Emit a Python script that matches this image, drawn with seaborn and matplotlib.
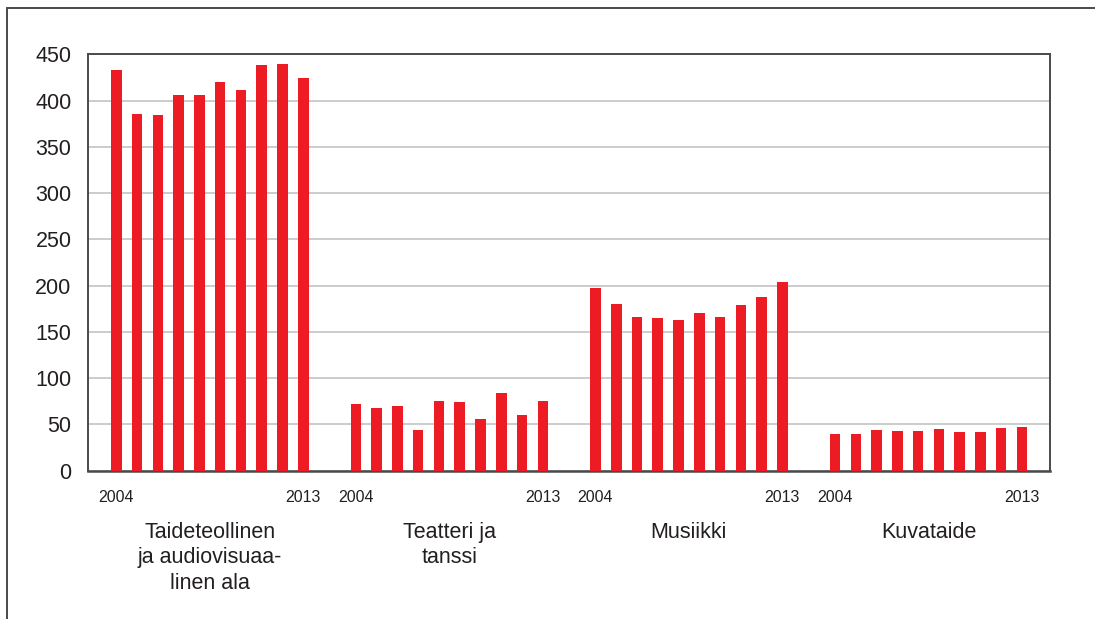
import numpy as np
import pandas as pd
import matplotlib
matplotlib.use("Agg")
import matplotlib.pyplot as plt
import seaborn as sns
from matplotlib.lines import Line2D

# data, years 2004..2013
years = list(range(2004, 2014))
groups = ["Taideteollinen\nja audiovisuaa-\nlinen ala", "Teatteri ja\ntanssi", "Musiikki", "Kuvataide"]
taideteollinen = [433, 386, 384, 406, 406, 420, 411, 438, 440, 424]
teatteri = [72, 68, 70, 44, 75, 74, 56, 84, 60, 75]
musiikki = [197, 180, 166, 165, 163, 170, 166, 179, 188, 204]
kuvataide = [40, 40, 44, 43, 43, 45, 42, 42, 46, 47]
yticks = [0, 50, 100, 150, 200, 250, 300, 350, 400, 450]

BAR_RED = "#ED1C24"
GROUP_STRIDE = 11.535  # distance between groups, in bar slots

sns.set_style("white")
plt.rcParams["font.family"] = ["Liberation Sans", "DejaVu Sans"]
plt.rcParams["text.color"] = "#231f20"

rows = []
for g, vals in enumerate([taideteollinen, teatteri, musiikki, kuvataide]):
    for i, (yr, v) in enumerate(zip(years, vals)):
        rows.append({"group": g, "year": yr, "value": v, "pos": g * GROUP_STRIDE + i})
df = pd.DataFrame(rows)

fig = plt.figure(figsize=(10.95, 6.19), dpi=100)
ax = fig.add_axes([0.0806, 0.2396, 0.9589 - 0.0806, 0.9123 - 0.2396])

sns.barplot(data=df, x="pos", y="value", native_scale=True, width=0.51,
            color=BAR_RED, saturation=1, linewidth=0, ax=ax, zorder=3)

ax.set_xlim(-1.35, 3 * GROUP_STRIDE + 9 + 1.35)
ax.set_ylim(0, 450)
ax.set_yticks(yticks)
ax.set_yticklabels([str(t) for t in yticks], fontsize=15.5)
ax.set_xticks([])
ax.tick_params(axis="y", length=0, pad=12, labelcolor="#231f20")
ax.yaxis.grid(True, color="#c8c8c8", linewidth=1.3)
ax.set_axisbelow(True)
ax.set_xlabel("")
ax.set_ylabel("")
for side, sp in ax.spines.items():
    sp.set_visible(True)
    sp.set_color("#4a4a4a")
    sp.set_linewidth(1.4)
ax.spines["bottom"].set_linewidth(1.8)

trans = ax.get_xaxis_transform()
for g, name in enumerate(groups):
    x0 = g * GROUP_STRIDE
    ax.text(x0, -0.065, str(years[0]), transform=trans, ha="center", va="center", fontsize=11.5)
    ax.text(x0 + 9, -0.065, str(years[-1]), transform=trans, ha="center", va="center", fontsize=11.5)
    ax.text(x0 + 4.5, -0.123, name, transform=trans, ha="center", va="top",
            fontsize=15.5, linespacing=1.27)

# frame around the figure: only top and left edges visible
fig.add_artist(Line2D([7 / 1095, 7 / 1095], [0, 1 - 8 / 619], transform=fig.transFigure,
                      color="#4a4a4a", linewidth=1.4))
fig.add_artist(Line2D([7 / 1095, 1], [1 - 8 / 619, 1 - 8 / 619], transform=fig.transFigure,
                      color="#4a4a4a", linewidth=1.4))

fig.savefig("out.png", dpi=100)
